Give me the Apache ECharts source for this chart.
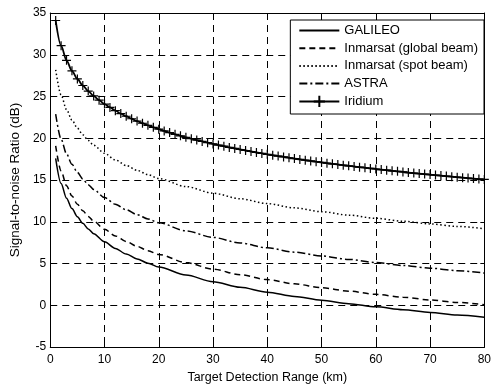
<!DOCTYPE html>
<html><head><meta charset="utf-8">
<script src="https://cdn.jsdelivr.net/npm/echarts@6/dist/echarts.min.js"></script>
<style>html,body{margin:0;padding:0;background:#fff}#c{width:494px;height:389px}</style>
</head><body><div id="c"></div>
<script>
var xTicks = [0,10,20,30,40,50,60,70,80];
var yTicks = [-5,0,5,10,15,20,25,30,35];
var rangeKm = [1,2,3,4,5,6,7,8,10,12,14,16,18,20,25,30,35,40,45,50,55,60,65,70,75,80];
var galileo = [17.6,14.59,12.83,11.58,10.61,9.82,9.15,8.57,7.6,6.81,6.14,5.56,5.05,4.59,3.62,2.83,2.16,1.58,1.07,0.61,0.2,-0.18,-0.53,-0.85,-1.15,-1.43];
var inmarsatGlobal = [19.1,16.09,14.33,13.08,12.11,11.32,10.65,10.07,9.1,8.31,7.64,7.06,6.55,6.09,5.12,4.33,3.66,3.08,2.57,2.11,1.7,1.32,0.97,0.65,0.35,0.07];
var inmarsatSpot = [28.2,25.19,23.43,22.18,21.21,20.42,19.75,19.17,18.2,17.41,16.74,16.16,15.65,15.19,14.22,13.43,12.76,12.18,11.67,11.21,10.8,10.42,10.07,9.75,9.45,9.17];
var astra = [22.9,19.89,18.13,16.88,15.91,15.12,14.45,13.87,12.9,12.11,11.44,10.86,10.35,9.89,8.92,8.13,7.46,6.88,6.37,5.91,5.5,5.12,4.77,4.45,4.15,3.87];
var iridiumKm = [1,2,3,4,5,6,7,8,9,10,11,12,13,14,15,16,17,18,19,20,21,22,23,24,25,26,27,28,29,30,31,32,33,34,35,36,37,38,39,40,41,42,43,44,45,46,47,48,49,50,51,52,53,54,55,56,57,58,59,60,61,62,63,64,65,66,67,68,69,70,71,72,73,74,75,76,77,78,79,80];
var iridium = [34.1,31.09,29.33,28.08,27.11,26.32,25.65,25.07,24.56,24.1,23.69,23.31,22.96,22.64,22.34,22.06,21.8,21.55,21.31,21.09,20.88,20.68,20.48,20.3,20.12,19.95,19.79,19.63,19.48,19.33,19.19,19.05,18.91,18.79,18.66,18.54,18.42,18.3,18.19,18.08,17.97,17.87,17.77,17.67,17.57,17.47,17.38,17.29,17.2,17.11,17.02,16.94,16.86,16.78,16.7,16.62,16.54,16.47,16.39,16.32,16.25,16.18,16.11,16.04,15.97,15.9,15.84,15.77,15.71,15.65,15.59,15.53,15.47,15.41,15.35,15.29,15.24,15.18,15.12,15.07];
var names = ['GALILEO','Inmarsat (global beam)','Inmarsat (spot beam)','ASTRA','Iridium'];

function pairs(xs, ys){ return xs.map(function(x,i){return [x, ys[i]];}); }

var FONT = 'Liberation Sans, Arial, sans-serif';
var chart = echarts.init(document.getElementById('c'), null, {renderer:'canvas'});
var gridLine = {show:true, lineStyle:{color:'#000', width:1, type:[7,5]}};
function baseLine(data, name, type){
  return {type:'line', name:name, data:data, showSymbol:false, symbol:'none', smooth:0.3, smoothMonotone:'x',
    lineStyle:{color:'#000', width:1.5, type:type}, itemStyle:{color:'#000'}, animation:false, z:3};
}
var hidden = {color:'transparent', borderColor:'transparent', borderWidth:0, opacity:0};
var option = {
  animation:false,
  backgroundColor:'#fff',
  grid:{left:50, right:6, top:13, bottom:36, show:false},
  legend:{
    right:10, top:20, orient:'vertical', itemWidth:40, itemHeight:14, itemGap:4.7,
    backgroundColor:'#fff', borderColor:'#000', borderWidth:1, borderRadius:0,
    padding:[4,6,6,8],
    textStyle:{fontFamily:FONT, fontSize:13, color:'#000'},
    data:[
      {name:names[0], itemStyle:hidden},
      {name:names[1], itemStyle:hidden},
      {name:names[2], itemStyle:hidden},
      {name:names[3], itemStyle:hidden},
      {name:names[4]}
    ]
  },
  xAxis:[{type:'value', min:0, max:80, interval:10, position:'bottom',
    axisLine:{show:true, onZero:false, lineStyle:{color:'#000', width:1}},
    axisTick:{show:true, inside:true, length:4, lineStyle:{color:'#000'}},
    axisLabel:{fontFamily:FONT, fontSize:12, color:'#000', margin:7},
    splitLine:gridLine,
    name:'Target Detection Range (km)', nameLocation:'middle', nameGap:22,
    nameTextStyle:{fontFamily:FONT, fontSize:12.5, color:'#000'}},
   {type:'value', min:0, max:80, interval:10, position:'top',
    axisLine:{show:true, onZero:false, lineStyle:{color:'#000', width:1}},
    axisTick:{show:true, inside:true, length:4, lineStyle:{color:'#000'}},
    axisLabel:{show:false}, splitLine:{show:false}}],
  yAxis:[{type:'value', min:-5, max:35, interval:5, position:'left',
    axisLine:{show:true, onZero:false, lineStyle:{color:'#000', width:1}},
    axisTick:{show:true, inside:true, length:4, lineStyle:{color:'#000'}},
    axisLabel:{fontFamily:FONT, fontSize:12, color:'#000', margin:4},
    splitLine:gridLine,
    name:'Signal-to-noise Ratio (dB)', nameLocation:'middle', nameGap:27,
    nameTextStyle:{fontFamily:FONT, fontSize:13.5, color:'#000'}},
   {type:'value', min:-5, max:35, interval:5, position:'right',
    axisLine:{show:true, onZero:false, lineStyle:{color:'#000', width:1}},
    axisTick:{show:true, inside:true, length:4, lineStyle:{color:'#000'}},
    axisLabel:{show:false}, splitLine:{show:false}}],
  series:[
    baseLine(pairs(rangeKm, galileo), names[0], 'solid'),
    baseLine(pairs(rangeKm, inmarsatGlobal), names[1], [6,4]),
    baseLine(pairs(rangeKm, inmarsatSpot), names[2], [1.5,2.5]),
    baseLine(pairs(rangeKm, astra), names[3], [8,3,2,3]),
    {type:'line', name:names[4], data:pairs(iridiumKm, iridium), smooth:0.3, smoothMonotone:'x',
     symbol:'path://M0,5L10,5M5,0L5,10', symbolSize:9, showSymbol:true,
     itemStyle:{color:'transparent', borderColor:'#000', borderWidth:1.2},
     lineStyle:{color:'#000', width:1.8}, z:4, animation:false}
  ]
};
chart.setOption(option);
</script></body></html>
